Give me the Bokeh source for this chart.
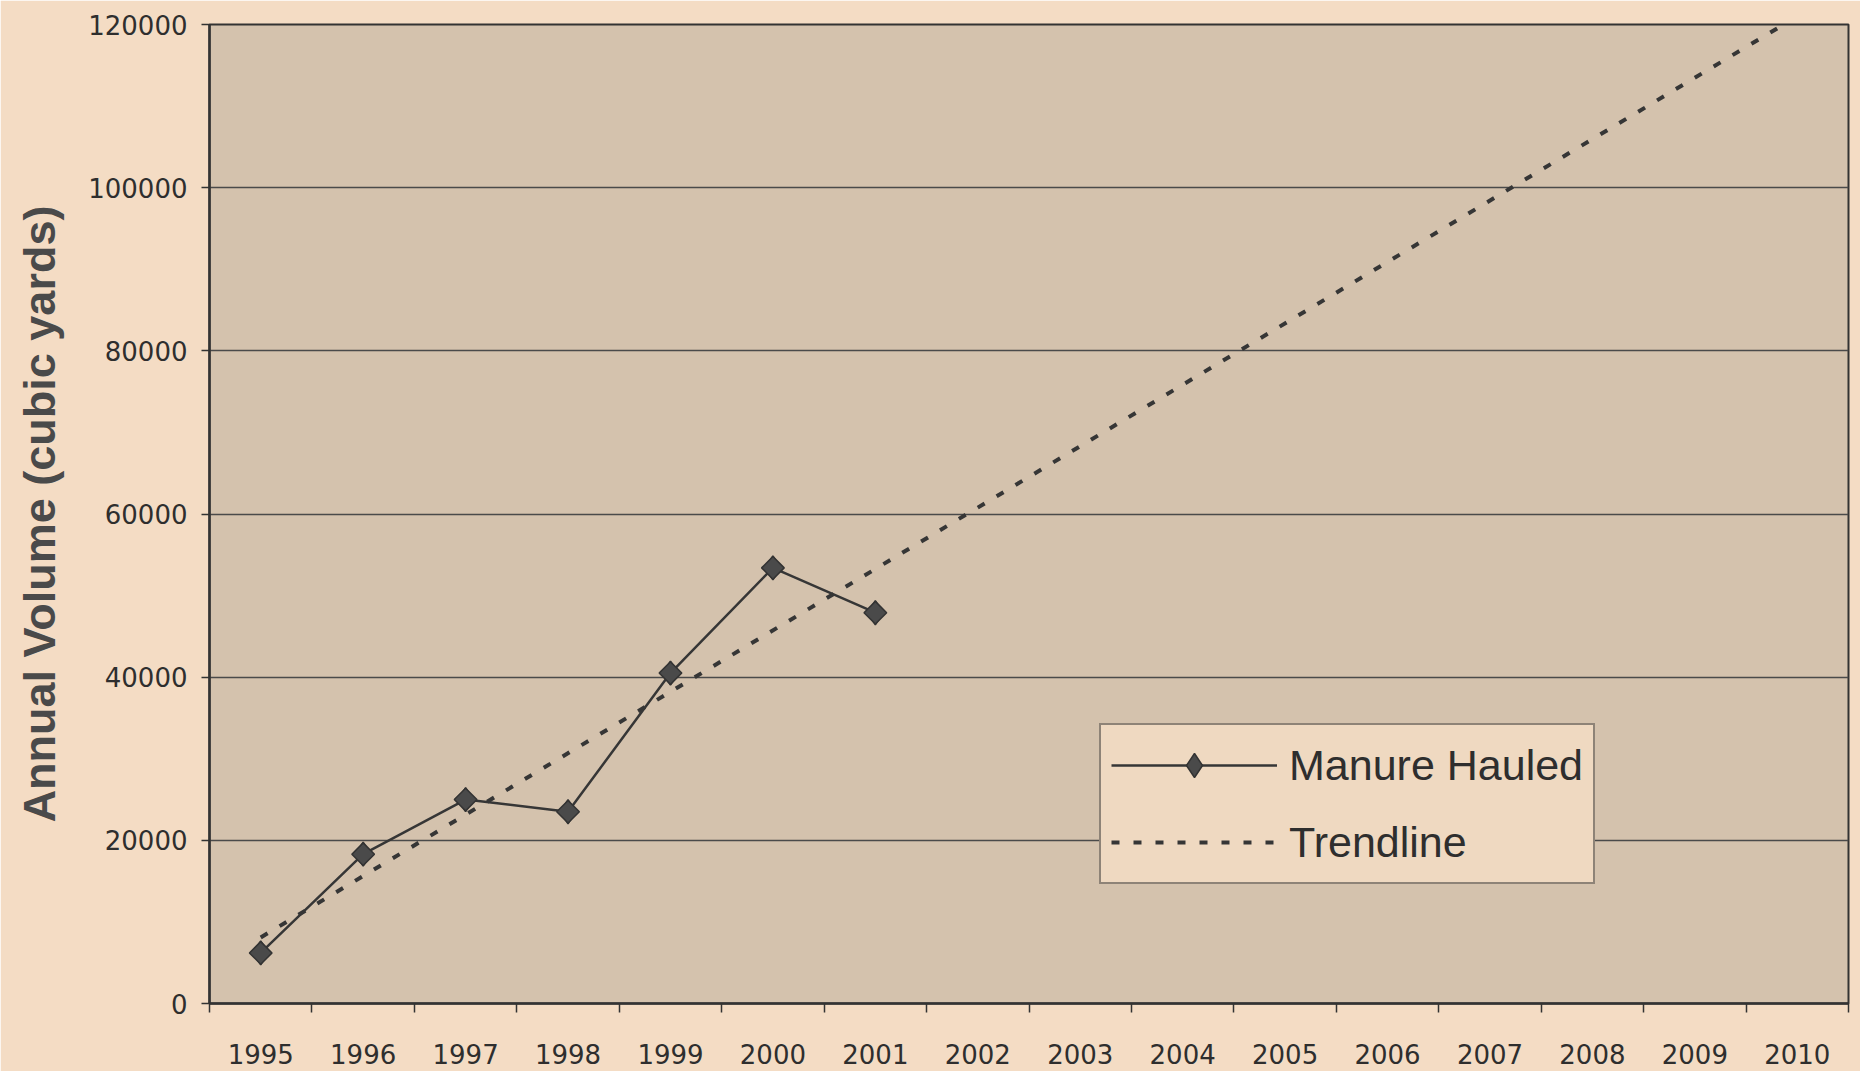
import numpy as np
from bokeh.plotting import figure
from bokeh.models import Range1d, FixedTicker, Legend, LegendItem
from bokeh.embed import file_html
from bokeh.resources import INLINE

# ---- data ----
years = [1995, 1996, 1997, 1998, 1999, 2000, 2001]
manure_hauled = [6200, 18300, 25000, 23500, 40500, 53400, 47900]
trend_years = [1995, 2010]
trend_values = [8100, 121000]
x_tick_years = list(range(1995, 2011))
y_ticks = [0, 20000, 40000, 60000, 80000, 100000, 120000]

PAGE_BG = "#F4DCC4"
PLOT_BG = "#D4C2AD"
INK = "#363636"

p = figure(
    width=1860, height=1071,
    frame_width=1639, frame_height=979,
    min_border_left=209, min_border_right=12, min_border_top=24, min_border_bottom=68,
    x_range=Range1d(1994.5, 2010.5), y_range=Range1d(0, 120000),
    output_backend="svg", toolbar_location=None,
    background_fill_color=PLOT_BG, border_fill_color=PAGE_BG,
)
p.outline_line_color = "#333333"
p.outline_line_width = 2

# x axis: labels at year centres, small tick marks between years
p.xaxis.ticker = FixedTicker(ticks=x_tick_years,
                             minor_ticks=[y + 0.5 for y in range(1994, 2011)])
p.xaxis.major_label_overrides = {y: str(y) for y in x_tick_years}
p.xaxis.major_tick_line_color = None
p.xaxis.minor_tick_line_color = "#333333"
p.xaxis.minor_tick_line_width = 1.5
p.xaxis.minor_tick_in = 0
p.xaxis.minor_tick_out = 9
p.xaxis.axis_line_color = "#333333"
p.xaxis.axis_line_width = 2.5
p.xaxis.major_label_text_font = "DejaVu Sans"
p.xaxis.major_label_text_font_size = "26px"
p.xaxis.major_label_text_color = "#2e2e2e"
p.xaxis.major_label_standoff = 31

# y axis
p.yaxis.ticker = FixedTicker(ticks=y_ticks, minor_ticks=[])
p.yaxis.major_label_overrides = {v: str(v) for v in y_ticks}
p.yaxis.major_tick_line_color = "#333333"
p.yaxis.major_tick_line_width = 1.5
p.yaxis.major_tick_in = 0
p.yaxis.major_tick_out = 8
p.yaxis.axis_line_color = "#333333"
p.yaxis.axis_line_width = 2.5
p.yaxis.major_label_text_font = "DejaVu Sans"
p.yaxis.major_label_text_font_size = "26px"
p.yaxis.major_label_text_color = "#2e2e2e"
p.yaxis.major_label_standoff = 14
p.yaxis.axis_label = "Annual Volume (cubic yards)"
p.yaxis.axis_label_text_font = "Liberation Sans"
p.yaxis.axis_label_text_font_style = "bold"
p.yaxis.axis_label_text_font_size = "45px"
p.yaxis.axis_label_text_color = "#4a4a4a"
p.yaxis.axis_label_standoff = 20

# grid
p.xgrid.grid_line_color = None
p.ygrid.grid_line_color = "#4a4a4a"
p.ygrid.grid_line_width = 1.5

# series
trend = p.line(trend_years, trend_values, line_color=INK, line_width=4,
               line_dash="8 14")
mline = p.line(years, manure_hauled, line_color=INK, line_width=2.5)
# diamond underlay (also used for the legend symbol, which cannot be rotated)
mdiam = p.scatter(years, manure_hauled, marker="diamond", size=24,
                  fill_color="#4a4a4a", line_color="#333333", line_width=1.5)
mpts = p.scatter(years, manure_hauled, marker="square", angle=np.pi / 4,
                 size=16, fill_color="#4a4a4a", line_color="#333333",
                 line_width=1.5)

legend = Legend(
    items=[LegendItem(label="Manure Hauled", renderers=[mline, mdiam]),
           LegendItem(label="Trendline", renderers=[trend])],
    location=(890, 119),
    background_fill_color="#EFD9C1", background_fill_alpha=1.0,
    border_line_color="#2e2e2e", border_line_width=2,
    label_text_font="Liberation Sans", label_text_font_size="43px",
    label_text_color="#2e2e2e",
    glyph_width=166, glyph_height=60, label_height=60,
    label_standoff=12, padding=10, spacing=17, margin=0,
)
p.add_layout(legend)

open("out.html", "w").write(file_html(p, INLINE))
